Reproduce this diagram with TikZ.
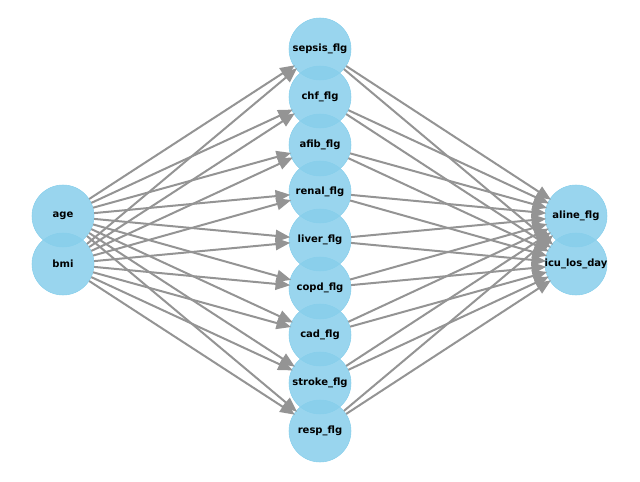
\documentclass[tikz,border=0pt]{standalone}
\usepackage{fontspec}
\setmainfont{DejaVu Sans}
\usetikzlibrary{arrows.meta}
\definecolor{skyblue}{HTML}{87CEEB}
\tikzset{
  var/.style={circle, fill=skyblue, fill opacity=0.85, draw=skyblue, minimum size=46.5pt, inner sep=0pt},
  lab/.style={font=\bfseries\fontsize{7.5}{9}\selectfont, text=black},
  edge/.style={draw=black!42, line width=1.5pt, -{Triangle[length=11pt,width=9pt]}, shorten >=-1pt}
}
\begin{document}
\begin{tikzpicture}[x=0.75pt,y=-0.75pt]
\useasboundingbox (0,0) rectangle (640,482);

% input variables
\node[var] (age) at (63,216) {};
\node[var] (bmi) at (63,264) {};

% middle layer
\foreach \n/\y in {sepsis/49,chf/97,afib/145,renal/192,liver/240,copd/288,cad/335,stroke/383,resp/431}
	\node[var] (\n) at (320,\y) {};

% outcomes
\node[var] (aline) at (576,216) {};
\node[var] (icu) at (576,264) {};

\foreach \s in {age,bmi}
	\foreach \t in {sepsis,chf,afib,renal,liver,copd,cad,stroke,resp}
		\draw[edge] (\s) -- (\t);
\foreach \s in {sepsis,chf,afib,renal,liver,copd,cad,stroke,resp}
	\foreach \t in {aline,icu}
		\draw[edge] (\s) -- (\t);

% labels
\foreach \n/\l in {age/age,bmi/bmi,sepsis/sepsis\_flg,chf/chf\_flg,afib/afib\_flg,renal/renal\_flg,liver/liver\_flg,copd/copd\_flg,cad/cad\_flg,stroke/stroke\_flg,resp/resp\_flg,aline/aline\_flg,icu/icu\_los\_day}
	\node[lab] at (\n) {\l};

\end{tikzpicture}
\end{document}
